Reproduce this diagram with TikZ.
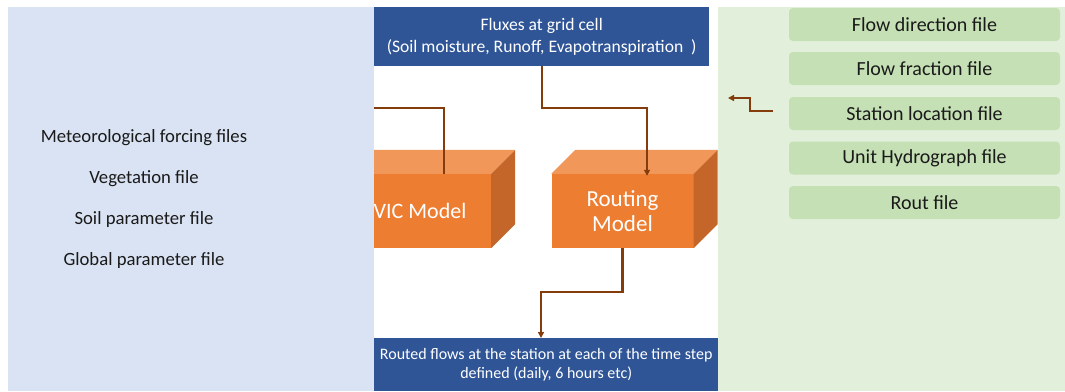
\documentclass[tikz,border=0pt]{standalone}
\usepackage{fontspec}
\setmainfont{Carlito}
\usetikzlibrary{arrows.meta}
\definecolor{lblue}{HTML}{DAE3F3}
\definecolor{lgreen}{HTML}{E2EFDA}
\definecolor{mgreen}{HTML}{C5E0B4}
\definecolor{dblue}{HTML}{2F5597}
\definecolor{orfront}{HTML}{ED7D31}
\definecolor{ortop}{HTML}{F1975A}
\definecolor{orside}{HTML}{C4662A}
\definecolor{brown}{HTML}{843C0C}
\definecolor{txt}{HTML}{1A1A1A}
\tikzset{
  conn/.style={draw=brown, line width=2.2pt},
  arr/.style={conn, -{Triangle[length=6pt,width=6pt]}},
  front/.style={fill=orfront, text=white, minimum width=142pt, minimum height=74pt, inner sep=0pt, align=center, font=\fontsize{22}{25}\selectfont},
  gbox/.style={fill=mgreen, rounded corners=4pt, minimum width=271pt, minimum height=33pt, inner sep=0pt, text=txt, font=\fontsize{20}{22}\selectfont},
  ltext/.style={text=txt, font=\fontsize{18.7}{22}\selectfont},
  bbox/.style={fill=dblue, text=white, inner sep=0pt, align=center},
}
\newcommand{\boxfaces}[1]{%
  \fill[ortop] (#1.north west) -- ++(24,-24) -- ([shift={(24,-24)}]#1.north east) -- (#1.north east) -- cycle;
  \fill[orside] (#1.north east) -- ++(24,-24) -- ([shift={(24,-24)}]#1.south east) -- (#1.south east) -- cycle;
}
\begin{document}
\begin{tikzpicture}[x=1pt,y=-1pt]
\useasboundingbox[fill=white] (0,0) rectangle (1065,391);
% VIC box (partly under left panel)
\node[front] (vic) at (420,211) {VIC Model};
\boxfaces{vic}
% Left panel
\node[fill=lblue, minimum width=366pt, minimum height=384pt, inner sep=0pt, anchor=north west] (lp) at (8,7) {};
% Green panel
\node[fill=lgreen, minimum width=347pt, minimum height=384pt, inner sep=0pt, anchor=north west] (rp) at (718,7) {};
% Routing box
\node[front, font=\fontsize{23}{25}\selectfont] (rout) at (622.5,211) {Routing\\Model};
\boxfaces{rout}
% Blue boxes
\node[bbox, minimum width=335pt, minimum height=59pt, anchor=north west, font=\fontsize{17.6}{22}\selectfont] (flux) at (374,7) {Fluxes at grid cell\\(Soil moisture, Runoff, Evapotranspiration~~)};
\node[bbox, minimum width=344pt, minimum height=53pt, anchor=north west, font=\fontsize{16}{19.5}\selectfont] (outb) at (374,338) {Routed flows at the station at each of the time step\\defined (daily, 6 hours etc)};
% Left texts
\node[ltext] (t1) at (144,137.5) {Meteorological forcing files};
\node[ltext] (t2) at (144,178.5) {Vegetation file};
\node[ltext] (t3) at (144,219.5) {Soil parameter file};
\node[ltext] (t4) at (144,260.5) {Global parameter file};
% Green boxes
\node[gbox] (g1) at (924.5,24.5) {Flow direction file};
\node[gbox] (g2) at (924.5,68.5) {Flow fraction file};
\node[gbox] (g3) at (924.5,113.5) {Station location file};
\node[gbox] (g4) at (924.5,158) {Unit Hydrograph file};
\node[gbox] (g5) at (924.5,202.5) {Rout file};
% Connectors
\coordinate (vin) at (374,108);
\draw[conn] (vin) -| ([xshift=24]vic.north);
\draw[arr] (flux.south) |- (647,108) -- ([xshift=24.5,yshift=-2]rout.north);
\coordinate (c1) at (541,292);
\draw[arr] (rout.south) |- (c1) -- (outb.north -| c1);
\coordinate (s1) at (773,111);
\coordinate (s2) at (728,98);
\draw[arr] (s1) -- (750,111) |- (s2);
\end{tikzpicture}
\end{document}
